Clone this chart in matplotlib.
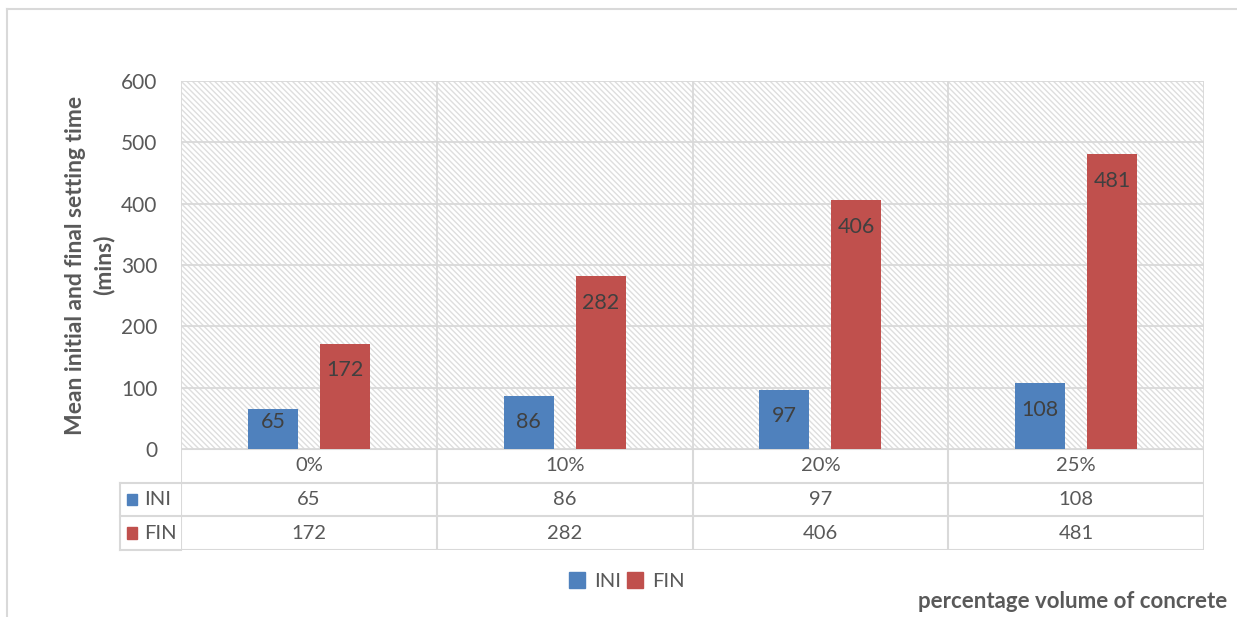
import matplotlib
matplotlib.use("Agg")
import matplotlib.pyplot as plt
import numpy as np
from matplotlib.patches import Rectangle, Patch
from matplotlib.lines import Line2D

# Data
categories = ["0%", "10%", "20%", "25%"]
series_names = ["INI", "FIN"]
ini_values = [65, 86, 97, 108]
fin_values = [172, 282, 406, 481]
y_ticks = [0, 100, 200, 300, 400, 500, 600]

colors = {"INI": "#4F81BD", "FIN": "#C0504D"}
text_color = "#595959"
grid_color = "#d9d9d9"
font = "Lato"

plt.rcParams["font.family"] = [font, "DejaVu Sans"]
plt.rcParams["hatch.linewidth"] = 1.0

W, H = 1237, 617
fig = plt.figure(figsize=(W / 100, H / 100), dpi=100)

def fx(px):
    return px / W

def fy(py):
    return 1 - py / H

# Outer chart border (left and top)
fig.add_artist(Line2D([fx(7), fx(7)], [fy(9), 0], color=grid_color, lw=1.5))
fig.add_artist(Line2D([fx(7), 1], [fy(9), fy(9)], color=grid_color, lw=1.5))

# Main plot area
ax_l, ax_r, ax_t, ax_b = 181, 1204, 81, 449
ax = fig.add_axes([fx(ax_l), fy(ax_b), fx(ax_r - ax_l), (ax_b - ax_t) / H])
ax.set_xlim(-0.5, len(categories) - 0.5)
ax.set_ylim(0, 600)
ax.set_facecolor("white")

# Hatched background
ax.add_patch(Rectangle((0, 0), 1, 1, transform=ax.transAxes, facecolor="white",
                       edgecolor="#dedede", hatch="\\" * 6, lw=0, zorder=0))

for yv in y_ticks:
    ax.axhline(yv, color=grid_color, lw=1.3, zorder=1)
for xb in np.arange(len(categories) + 1) - 0.5:
    ax.axvline(xb, color=grid_color, lw=1.3, zorder=1)

for s in ax.spines.values():
    s.set_visible(False)

x = np.arange(len(categories))
bw = 0.196
off = 0.141
ax.bar(x - off, ini_values, bw, color=colors["INI"], zorder=3)
ax.bar(x + off, fin_values, bw, color=colors["FIN"], zorder=3)

# Value labels inside bar ends
for xs, vals in ((x - off, ini_values), (x + off, fin_values)):
    for xi, v in zip(xs, vals):
        ly = max(v - 44, 44)
        ax.text(xi, ly, str(v), ha="center", va="center", fontsize=15.5,
                color="#404040", zorder=4)

ax.set_xticks([])
ax.set_yticks(y_ticks)
ax.set_yticklabels([str(t) for t in y_ticks], fontsize=15, color=text_color)
ax.tick_params(axis="y", length=0, pad=17)
ax.set_ylabel("Mean initial and final setting time\n(mins)", fontsize=16.5,
              fontweight="bold", color=text_color, labelpad=5, linespacing=1.35)

# Data table under the plot
tb_top, tb_bot = 449, 550
tax = fig.add_axes([fx(ax_l), fy(tb_bot), fx(ax_r - ax_l), (tb_bot - tb_top) / H])
tax.set_xlim(ax.get_xlim())
tax.set_ylim(0, 3)
tax.axis("off")
for yb in (3, 2, 1, 0):
    tax.axhline(yb, color=grid_color, lw=1.5)
for xb in np.arange(len(categories) + 1) - 0.5:
    tax.axvline(xb, color=grid_color, lw=1.5)

hdr = (120 - ax_l) / (ax_r - ax_l)
for yb in (2, 1, 0):
    tax.add_artist(Line2D([hdr, 0], [yb / 3, yb / 3], transform=tax.transAxes,
                          color=grid_color, lw=1.5, clip_on=False))
tax.add_artist(Line2D([hdr, hdr], [0, 2 / 3], transform=tax.transAxes,
                      color=grid_color, lw=1.5, clip_on=False))

for xi, c in zip(x, categories):
    tax.text(xi, 2.5, c, ha="center", va="center", fontsize=14.5, color=text_color)
for row_y, name, vals in ((1.5, "INI", ini_values), (0.5, "FIN", fin_values)):
    for xi, v in zip(x, vals):
        tax.text(xi, row_y, str(v), ha="center", va="center", fontsize=14.5,
                 color=text_color)
    tax.add_patch(Rectangle((hdr + 7 / 1023, row_y - 0.17), 10 / 1023, 0.34,
                            transform=tax.get_yaxis_transform(),
                            color=colors[name], clip_on=False))
    tax.text(hdr + 24 / 1023, row_y, name, transform=tax.get_yaxis_transform(),
             ha="left", va="center", fontsize=14.5, color=text_color)

# Legend
handles = [Patch(color=colors[n], label=n) for n in series_names]
leg = fig.legend(handles=handles, loc="center", bbox_to_anchor=(fx(627), fy(581)),
                 ncol=2, frameon=False, fontsize=14.5, handlelength=0.8,
                 handleheight=0.8, handletextpad=0.45, columnspacing=0.3)
for t in leg.get_texts():
    t.set_color(text_color)

fig.text(fx(1227), fy(602), "percentage volume of concrete", ha="right",
         va="center", fontsize=16, fontweight="bold", color=text_color)

fig.savefig("out.png", dpi=100)
